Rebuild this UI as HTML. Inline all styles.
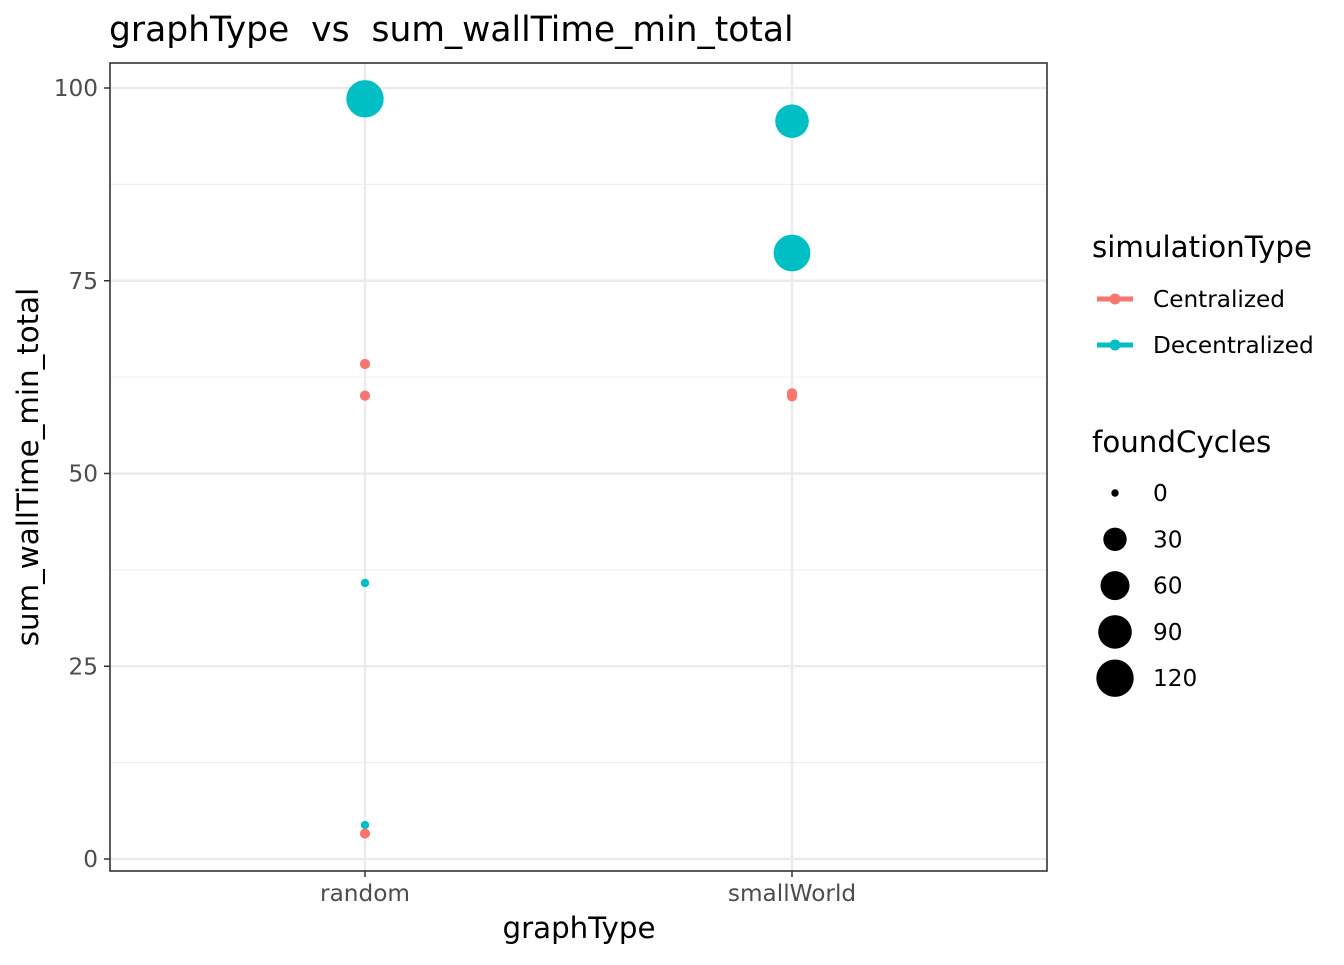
<!DOCTYPE html>
<html><head><meta charset="utf-8"><style>
body{margin:0;background:#fff;font-family:"Liberation Sans","DejaVu Sans",sans-serif}
</style></head><body>
<svg id="chart" width="1344" height="960" viewBox="0 0 1344 960" xmlns="http://www.w3.org/2000/svg" font-family="DejaVu Sans, Liberation Sans, sans-serif">
<rect width="1344" height="960" fill="#fff"/>
<text x="109" y="41" font-size="34.5" fill="#000" style="white-space:pre" xml:space="preserve">graphType  vs  sum_wallTime_min_total</text>
<g id="grid"></g>
<g id="points"></g>
<rect x="110" y="63" width="937" height="808" fill="none" stroke="#333" stroke-width="1.6"/>
<g id="axes"></g>
<text x="579" y="938" font-size="29.3" text-anchor="middle">graphType</text>
<text transform="translate(38,467) rotate(-90)" font-size="29.3" text-anchor="middle">sum_wallTime_min_total</text>
<g>
<text x="1092" y="257" font-size="29.3">simulationType</text>
<g><line x1="1097" y1="299" x2="1133" y2="299" stroke="#F8766D" stroke-width="5"/><circle cx="1115" cy="299" r="5.5" fill="#F8766D"/><text x="1153" y="307" font-size="23.2">Centralized</text></g>
<g><line x1="1097" y1="345" x2="1133" y2="345" stroke="#00BFC4" stroke-width="5"/><circle cx="1115" cy="345" r="5.5" fill="#00BFC4"/><text x="1153" y="353" font-size="23.2">Decentralized</text></g>
</g>
<g id="sizelegend">
<text x="1092" y="452" font-size="29.3">foundCycles</text>
</g>
</svg>
<script>
const categories = ["random", "smallWorld"];
const yTicks = [0, 25, 50, 75, 100];
const pointCategory = ["random","random","random","random","random","random","smallWorld","smallWorld","smallWorld","smallWorld"];
const pointValue = [98.6, 64.2, 60.1, 35.8, 4.4, 3.3, 95.7, 78.6, 60.4, 60.0];
const pointType = ["Decentralized","Centralized","Centralized","Decentralized","Decentralized","Centralized","Decentralized","Decentralized","Centralized","Centralized"];
const pointCycles = [120, 3, 3, 1, 1, 3, 90, 115, 3, 3];
const sizeBreaks = [0, 30, 60, 90, 120];
const sizeRadii = [3.7, 11.7, 14.5, 16.8, 18.7];

const NS = "http://www.w3.org/2000/svg";
const colors = {Centralized:"#F8766D", Decentralized:"#00BFC4"};
function yScale(v){ return 859 - v * 7.71; }
function xScale(c){ return 365 + categories.indexOf(c) * 427; }
function rScale(v){
  for (let i = 0; i < sizeBreaks.length - 1; i++) {
    if (v <= sizeBreaks[i+1]) {
      const t = (v - sizeBreaks[i]) / (sizeBreaks[i+1] - sizeBreaks[i]);
      const a = sizeRadii[i]*sizeRadii[i], b = sizeRadii[i+1]*sizeRadii[i+1];
      return Math.sqrt(a + t*(b-a));
    }
  }
  return sizeRadii[sizeRadii.length-1];
}
function mk(tag, attrs, parent){ const e = document.createElementNS(NS, tag); for (const k in attrs) e.setAttribute(k, attrs[k]); parent.appendChild(e); return e; }

const grid = document.getElementById("grid");
const axes = document.getElementById("axes");
for (let i = 0; i < yTicks.length - 1; i++) {
  const m = (yTicks[i] + yTicks[i+1]) / 2;
  const l = mk("line", {x1:110, x2:1047, y1:yScale(m), y2:yScale(m), stroke:"#f0f0f0", "stroke-width":1.2}, grid);
  
  
}
yTicks.forEach(v => {
  const y = yScale(v);
  const l = mk("line", {x1:110, x2:1047, y1:y, y2:y, stroke:"#ebebeb", "stroke-width":2.4}, grid);
  
  
  const t = mk("line", {x1:104, x2:110, y1:y, y2:y, stroke:"#333", "stroke-width":1.5}, axes);
  
  
  const tx = mk("text", {x:98, y:y+8, "font-size":23.2, fill:"#4d4d4d", "text-anchor":"end"}, axes);
  tx.textContent = v;
  
  
});
categories.forEach(c => {
  const x = xScale(c);
  const l = mk("line", {x1:x, x2:x, y1:63, y2:871, stroke:"#ebebeb", "stroke-width":2.4}, grid);
  
  
  const t = mk("line", {x1:x, x2:x, y1:871, y2:877, stroke:"#333", "stroke-width":1.5}, axes);
  
  
  const tx = mk("text", {x:x, y:901, "font-size":23.2, fill:"#4d4d4d", "text-anchor":"middle"}, axes);
  tx.textContent = c;
  
  
});
const pts = document.getElementById("points");
pointValue.forEach((v, i) => {
  const c = mk("circle", {cx:xScale(pointCategory[i]), cy:yScale(v), r:rScale(pointCycles[i]), fill:colors[pointType[i]]}, pts);
  
  
});
const sl = document.getElementById("sizelegend");
sizeBreaks.forEach((b, i) => {
  const y = 493 + i * 46.3;
  const c = mk("circle", {cx:1115, cy:y, r:sizeRadii[i], fill:"#000"}, sl);
  
  
  const t = mk("text", {x:1153, y:y+8, "font-size":23.2}, sl);
  t.textContent = b;
  
  
});
</script>
</body></html>
